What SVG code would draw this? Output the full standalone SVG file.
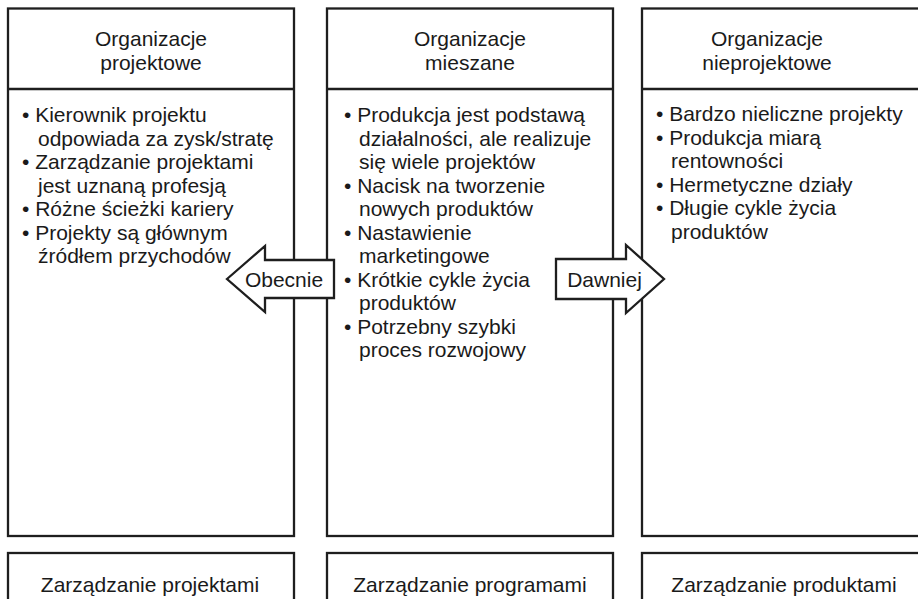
<svg xmlns="http://www.w3.org/2000/svg" width="918" height="599" viewBox="0 0 918 599">
<style>
.box{fill:#fff;stroke:#1e1e1e;stroke-width:2.3}
.ln{stroke:#1e1e1e;stroke-width:2.3}
.t{font-family:"Liberation Sans",Arial,sans-serif;font-size:21px;fill:#1a1a1a}
.c{text-anchor:middle}
.arr{fill:#fff;stroke:#1e1e1e;stroke-width:2.3;stroke-linejoin:miter}
</style>
<rect width="918" height="599" fill="#fff"/>
<g id="col-projektowe">
<rect class="box" x="8" y="8.5" width="286" height="527.5"/>
<line class="ln" x1="8" y1="89" x2="294" y2="89"/>
<text class="t c" x="151" y="46">Organizacje</text>
<text class="t c" x="151" y="69.5">projektowe</text>
<text class="t" x="22">
<tspan x="22" y="122">• Kierownik projektu</tspan>
<tspan x="38" y="145.5">odpowiada za zysk/stratę</tspan>
<tspan x="22" y="169">• Zarządzanie projektami</tspan>
<tspan x="38" y="192.5">jest uznaną profesją</tspan>
<tspan x="22" y="216">• Różne ścieżki kariery</tspan>
<tspan x="22" y="239.5">• Projekty są głównym</tspan>
<tspan x="38" y="263">źródłem przychodów</tspan>
</text>
</g>
<g id="col-mieszane">
<rect class="box" x="327" y="8.5" width="286" height="527.5"/>
<line class="ln" x1="327" y1="89" x2="613" y2="89"/>
<text class="t c" x="470" y="46">Organizacje</text>
<text class="t c" x="470" y="69.5">mieszane</text>
<text class="t">
<tspan x="344" y="122">• Produkcja jest podstawą</tspan>
<tspan x="359" y="145.5">działalności, ale realizuje</tspan>
<tspan x="359" y="169">się wiele projektów</tspan>
<tspan x="344" y="192.5">• Nacisk na tworzenie</tspan>
<tspan x="359" y="216">nowych produktów</tspan>
<tspan x="344" y="239.5">• Nastawienie</tspan>
<tspan x="359" y="263">marketingowe</tspan>
<tspan x="344" y="286.5">• Krótkie cykle życia</tspan>
<tspan x="359" y="310">produktów</tspan>
<tspan x="344" y="333.5">• Potrzebny szybki</tspan>
<tspan x="359" y="357">proces rozwojowy</tspan>
</text>
</g>
<g id="col-nieprojektowe">
<rect class="box" x="642" y="8.5" width="290" height="527.5"/>
<line class="ln" x1="642" y1="89" x2="932" y2="89"/>
<text class="t c" x="767" y="46">Organizacje</text>
<text class="t c" x="767" y="69.5">nieprojektowe</text>
<text class="t">
<tspan x="656" y="121">• Bardzo nieliczne projekty</tspan>
<tspan x="656" y="144.5">• Produkcja miarą</tspan>
<tspan x="671" y="168">rentowności</tspan>
<tspan x="656" y="191.5">• Hermetyczne działy</tspan>
<tspan x="656" y="215">• Długie cykle życia</tspan>
<tspan x="671" y="238.5">produktów</tspan>
</text>
</g>
<g id="bottom-projektami">
<rect class="box" x="8" y="553" width="286" height="70"/>
<text class="t c" x="150" y="592">Zarządzanie projektami</text>
</g>
<g id="bottom-programami">
<rect class="box" x="327" y="553" width="286" height="70"/>
<text class="t c" x="470" y="592">Zarządzanie programami</text>
</g>
<g id="bottom-produktami">
<rect class="box" x="642" y="553" width="290" height="70"/>
<text class="t c" x="784" y="592">Zarządzanie produktami</text>
</g>
<g id="connectors">
<g id="arrow-obecnie">
<polygon class="arr" points="227,279 265,246 265,260 334,260 334,298 265,298 265,312"/>
<text class="t c" x="284" y="286.5">Obecnie</text>
</g>
<g id="arrow-dawniej">
<polygon class="arr" points="556,259 626,259 626,245 664,279 626,313 626,299 556,299"/>
<text class="t c" x="604.5" y="286.5">Dawniej</text>
</g>
</g>
</svg>
